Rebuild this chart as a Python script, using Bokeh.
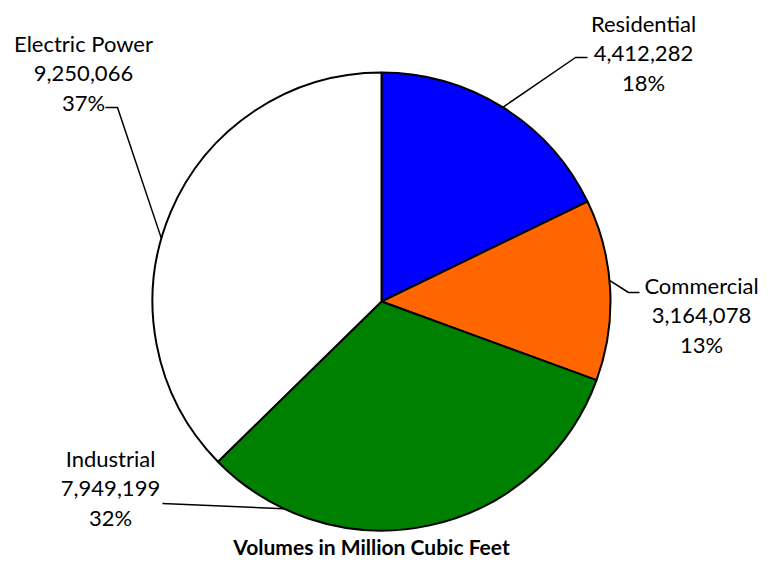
import numpy as np
from bokeh.plotting import figure
from bokeh.models import Range1d, ColumnDataSource
from bokeh.core.properties import value
from bokeh.embed import file_html
from bokeh.resources import INLINE

# ---- data ----
categories = ["Residential", "Commercial", "Industrial", "Electric Power"]
volumes = [4412282, 3164078, 7949199, 9250066]
title_text = "Volumes in Million Cubic Feet"

# ---- styles / layout ----
colors = ["#0000FF", "#FF6600", "#008000", "#FFFFFF"]
FONT = "Lato"
LABEL_SIZE = "22px"
W, H = 759, 561


def py(y_img):
    return H - y_img


cx, cy, R = 381, py(301), 229
# label anchor (image coords of first-line centre)
label_pos = [(643, 23), (701, 285), (110, 458), (83, 43)]
line_gap = 29.5
# leader lines: (stub end x, elbow x, elbow y, edge angle deg)
leaders = [
    (587, 575, 57, 58.0),
    (639, 628, 292, 5.3),
    (162, 162, 503, 244.8),
    (105, 117, 107, 164.0),
]

vals = np.array(volumes, dtype=float)
frac = vals / vals.sum()
cum = np.concatenate([[0], np.cumsum(frac)])
start = np.pi / 2 - cum[:-1] * 2 * np.pi
end = np.pi / 2 - cum[1:] * 2 * np.pi
pct = [f"{int(round(f * 100))}%" for f in frac]
nums = [f"{v:,}" for v in volumes]

p = figure(width=W, height=H, x_range=Range1d(0, W), y_range=Range1d(0, H),
           output_backend="svg", toolbar_location=None, min_border=0)
p.axis.visible = False
p.grid.visible = False
p.outline_line_color = None
p.background_fill_color = "white"
p.border_fill_color = "white"

src = ColumnDataSource(dict(start=start, end=end, color=colors))
p.wedge(x=cx, y=cy, radius=R, start_angle="start", end_angle="end", direction="clock",
        fill_color="color", line_color="black", line_width=2, source=src)

# leader lines
for (hx, ex, ey, ang) in leaders:
    a = np.deg2rad(ang)
    px_, py_ = cx + R * np.cos(a), cy + R * np.sin(a)
    p.line([hx, ex, px_], [py(ey), py(ey), py_], line_color="black", line_width=1.5)

# labels
for i, (lx, ly) in enumerate(label_pos):
    lines = [categories[i], nums[i], pct[i]]
    p.text(x=[lx] * 3, y=[py(ly + k * line_gap) for k in range(3)], text=lines,
           text_font=value(FONT), text_font_size=LABEL_SIZE, text_color="#000000",
           text_align="center", text_baseline="middle")

p.text(x=[371], y=[py(546)], text=[title_text], text_font=value(FONT), text_font_size="21px",
       text_font_style="bold", text_color="#000000", text_align="center", text_baseline="middle")

open("out.html", "w").write(file_html(p, INLINE))
